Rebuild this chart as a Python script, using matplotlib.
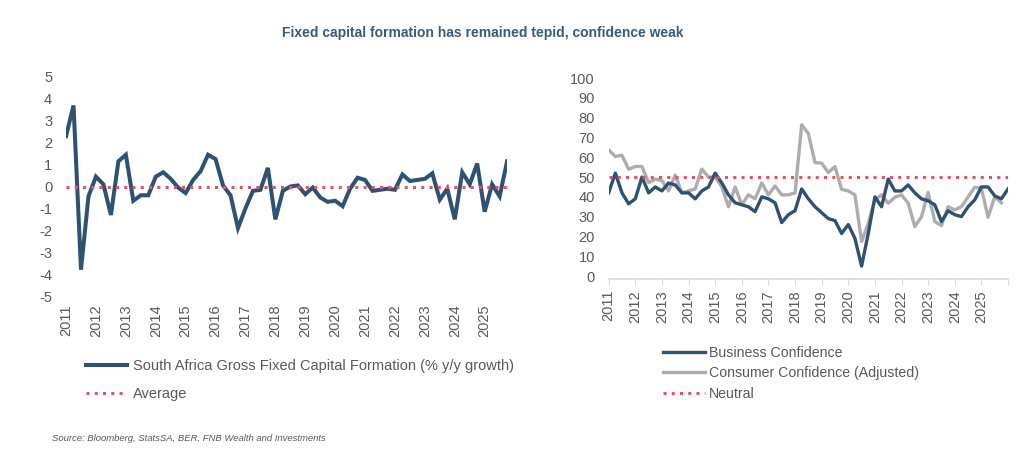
import matplotlib
matplotlib.use('Agg')
import matplotlib.pyplot as plt

plt.rcParams['font.family'] = ['Liberation Sans', 'DejaVu Sans']
plt.rcParams['axes.unicode_minus'] = False

# data (quarterly, 2011 Q1 onwards)
years = list(range(2011, 2026))
gfcf = [2.3, 3.7, -3.8, -0.45, 0.45, 0.1, -1.3, 1.15, 1.45, -0.65,
        -0.4, -0.4, 0.45, 0.65, 0.35, -0.05, -0.3, 0.3, 0.7, 1.45,
        1.25, 0.05, -0.4, -1.9, -1.0, -0.2, -0.15, 0.85, -1.5, -0.2,
        0.0, 0.05, -0.35, -0.05, -0.5, -0.7, -0.65, -0.9, -0.1, 0.4,
        0.3, -0.2, -0.15, -0.1, -0.15, 0.55, 0.25, 0.3, 0.35, 0.6,
        -0.6, -0.1, -1.5, 0.65, 0.1, 1.05, -1.15, 0.1, -0.45, 1.15]
gfcf_avg = 0.0

business = [42, 52, 42, 36.5, 39, 50, 42, 45, 43, 47,
            46, 42, 42, 39, 43, 45, 52, 47, 41, 37,
            36, 35, 32.5, 40, 39, 37, 27, 31, 33, 44,
            39, 35, 32, 29, 28, 21.5, 26, 19, 5, 21.5,
            40, 35, 49, 43, 43, 46, 42, 39, 38, 36,
            27.5, 33, 31, 30, 35, 38.5, 45, 45, 40.5, 39, 44]
consumer = [63.7, 60.4, 61, 54, 55.3, 55.3, 47.2, 49, 48.2, 43,
            51, 42, 43, 44, 54, 50, 50, 45, 35, 45,
            36, 41, 39, 47, 41, 45.5, 41, 41, 42, 76.4,
            72, 57.3, 57, 52.3, 55.3, 43.8, 43, 41, 17.4, 26.6,
            38.4, 41, 36.8, 39.8, 41, 36.8, 25, 30, 42.3, 27.5,
            25.5, 35, 33.4, 35, 40, 44.9, 44.4, 29.7, 40, 37]
neutral = 50

navy = '#2E5274'
grey = '#ADADAD'
pink = '#E05565'
txt = '#595959'

fig = plt.figure(figsize=(10.24, 4.54), dpi=100)
fig.text(0.471, 0.927, 'Fixed capital formation has remained tepid, confidence weak',
         ha='center', va='center', fontsize=10, fontweight='bold', color='#3A5A7A')

# left panel
ax1 = fig.add_axes([0.0645, 0.348, 0.4307, 0.4824])
x1 = list(range(len(gfcf)))
ax1.plot(x1, gfcf, color=navy, lw=2.9, solid_joinstyle='miter',
         label='South Africa Gross Fixed Capital Formation (% y/y growth)')
ax1.plot([x1[0], x1[-1]], [gfcf_avg, gfcf_avg], color=pink, lw=2.2,
         linestyle=(0, (1, 1.7)), label='Average')
ax1.set_xlim(x1[0], x1[-1])
ax1.set_ylim(-5, 5)
ax1.set_yticks(range(-5, 6))
ax1.set_xticks([4 * i for i in range(len(years))])
ax1.set_xticklabels([str(y) for y in years], rotation=90)
ax1.tick_params(axis='both', length=0, colors=txt, labelsize=10.5)
ax1.tick_params(axis='y', pad=10)
ax1.tick_params(axis='x', pad=6)
for s in ax1.spines.values():
    s.set_visible(False)
ax1.legend(loc='upper left', bbox_to_anchor=(0.084, 0.21), bbox_transform=fig.transFigure,
           frameon=False, fontsize=10.5, handlelength=2.8, handletextpad=0.4,
           labelspacing=0.97, labelcolor=txt, borderaxespad=0, borderpad=0)

# right panel
ax2 = fig.add_axes([0.5944, 0.392, 0.39, 0.436])
for k in ['top', 'right', 'left']:
    ax2.spines[k].set_visible(False)
ax2.spines['bottom'].set_position(('outward', 2))
ax2.spines['bottom'].set_color('#D9D9D9')
ax2.spines['bottom'].set_linewidth(1.2)
x2 = list(range(len(business)))
ax2.plot(x2, business, color=navy, lw=2.4, label='Business Confidence', zorder=3)
ax2.plot(list(range(len(consumer))), consumer, color=grey, lw=2.4,
         label='Consumer Confidence (Adjusted)', zorder=2)
ax2.plot([x2[0], x2[-1]], [neutral, neutral], color=pink, lw=2.2,
         linestyle=(0, (1, 1.7)), label='Neutral', zorder=4)
ax2.set_xlim(x2[0], x2[-1])
ax2.set_ylim(0, 100)
ax2.set_yticks(range(0, 101, 10))
ax2.set_xticks([4 * i for i in range(len(years) + 1)])
ax2.set_xticklabels([str(y) for y in years] + [''])
ax2.tick_params(axis='y', length=0, colors=txt, labelsize=10.5, pad=10)
ax2.tick_params(axis='x', length=4, color='#D9D9D9', labelcolor=txt, labelsize=10.5,
                pad=4, labelrotation=90)
ax2.legend(loc='upper left', bbox_to_anchor=(0.647, 0.238), bbox_transform=fig.transFigure,
           frameon=False, fontsize=10.2, handlelength=3.0, handletextpad=0.3,
           labelspacing=0.45, labelcolor=txt, borderaxespad=0, borderpad=0)

fig.text(0.051, 0.035, 'Source: Bloomberg, StatsSA, BER, FNB Wealth and Investments',
         fontsize=6.8, style='italic', color=txt, ha='left', va='center')

fig.savefig('out.png', dpi=100, facecolor='white')
